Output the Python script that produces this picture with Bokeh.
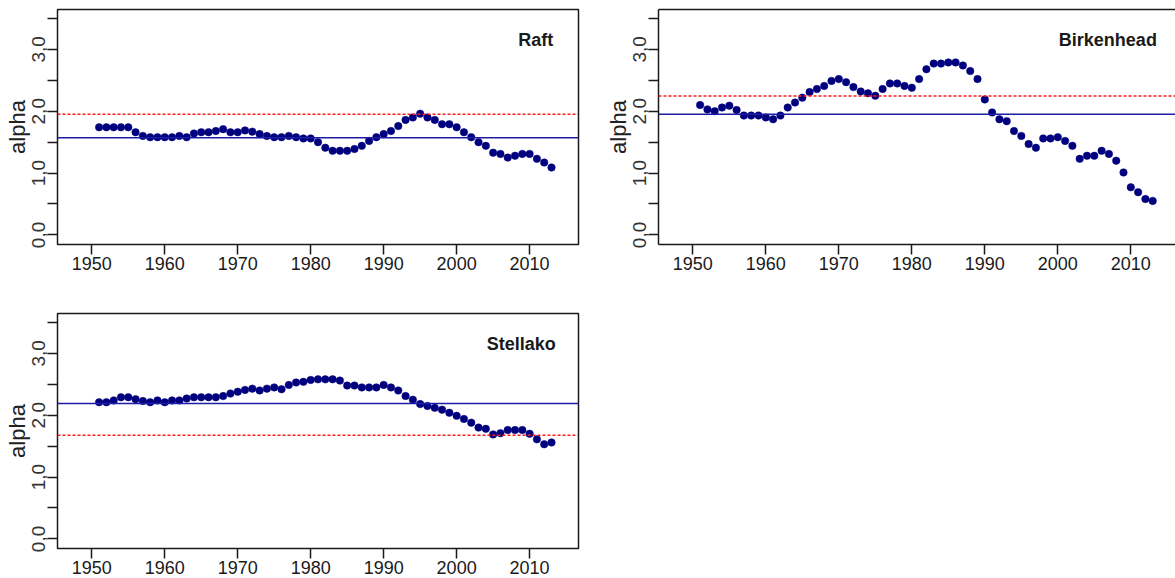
from bokeh.plotting import figure
from bokeh.layouts import column, row
from bokeh.models import (Span, Label, FixedTicker, CustomJSTickFormatter,
                          Range1d, LinearAxis, ColumnDataSource)
from bokeh.embed import file_html
from bokeh.resources import INLINE

# Brood years
years = list(range(1951, 2014))

# Productivity parameter (alpha) per stock and brood year
raft_alpha = [
    1.74, 1.74, 1.74, 1.74, 1.74, 1.66, 1.60, 1.58, 1.58, 1.58,
    1.58, 1.60, 1.58, 1.64, 1.66, 1.66, 1.68, 1.71, 1.66, 1.66,
    1.69, 1.67, 1.63, 1.60, 1.58, 1.58, 1.60, 1.58, 1.56, 1.56,
    1.50, 1.41, 1.36, 1.36, 1.36, 1.39, 1.44, 1.52, 1.58, 1.63,
    1.68, 1.76, 1.86, 1.90, 1.96, 1.90, 1.86, 1.79, 1.79, 1.74,
    1.66, 1.58, 1.50, 1.44, 1.33, 1.31, 1.25, 1.28, 1.31, 1.31,
    1.23, 1.17, 1.09,
]
birkenhead_alpha = [
    2.10, 2.03, 2.00, 2.06, 2.09, 2.02, 1.93, 1.93, 1.93, 1.90,
    1.87, 1.93, 2.06, 2.14, 2.22, 2.31, 2.36, 2.41, 2.49, 2.52,
    2.47, 2.39, 2.32, 2.29, 2.25, 2.36, 2.45, 2.45, 2.41, 2.38,
    2.52, 2.68, 2.77, 2.77, 2.79, 2.79, 2.74, 2.65, 2.52, 2.19,
    1.98, 1.87, 1.84, 1.68, 1.60, 1.47, 1.41, 1.56, 1.56, 1.58,
    1.52, 1.44, 1.23, 1.28, 1.28, 1.36, 1.31, 1.20, 1.01, 0.77,
    0.69, 0.58, 0.55,
]
stellako_alpha = [
    2.21, 2.21, 2.24, 2.29, 2.29, 2.26, 2.23, 2.21, 2.24, 2.21,
    2.24, 2.24, 2.27, 2.29, 2.29, 2.29, 2.29, 2.31, 2.35, 2.38,
    2.41, 2.43, 2.40, 2.43, 2.45, 2.42, 2.49, 2.53, 2.54, 2.57,
    2.58, 2.58, 2.58, 2.56, 2.48, 2.48, 2.45, 2.45, 2.45, 2.49,
    2.45, 2.40, 2.31, 2.25, 2.18, 2.15, 2.12, 2.09, 2.04, 1.99,
    1.94, 1.88, 1.80, 1.78, 1.69, 1.71, 1.76, 1.76, 1.76, 1.70,
    1.61, 1.53, 1.56,
]

stock_names = ["Raft", "Birkenhead", "Stellako"]
solid_levels = [1.57, 1.95, 2.19]     # solid blue reference
dotted_levels = [1.95, 2.245, 1.675]  # dotted red reference

y_ticks = [0, 1, 2, 3]
y_minor_ticks = [0.5, 1.5, 2.5, 3.5]
x_ticks = [1950, 1960, 1970, 1980, 1990, 2000, 2010]

FONT = "Liberation Sans"
INK = "#1a1a1a"
X_START = 1945.3


def make_panel(name, values, solid, dotted, width, height, border_right,
               border_bottom, x_end, label_x, closed=True):
    p = figure(width=width, height=height,
               x_range=Range1d(X_START, x_end), y_range=Range1d(-0.155, 3.645),
               output_backend="svg", toolbar_location=None,
               min_border_left=57, min_border_right=border_right,
               min_border_top=9, min_border_bottom=border_bottom,
               background_fill_color="white", border_fill_color="white")
    p.xgrid.visible = False
    p.ygrid.visible = False

    if closed:
        p.outline_line_color = INK
        p.outline_line_width = 1.5
        p.outline_line_alpha = 1.0
        axis_line = None
    else:
        p.outline_line_color = None
        axis_line = INK

    # x axis
    xa = p.xaxis[0]
    xa.ticker = FixedTicker(ticks=x_ticks)
    xa.axis_line_color = axis_line
    xa.axis_line_width = 1.5
    xa.major_tick_out = 10
    xa.major_tick_in = 0
    xa.major_tick_line_color = INK
    xa.major_tick_line_width = 1.5
    xa.minor_tick_line_color = None
    xa.major_label_standoff = 2
    xa.major_label_text_font = FONT
    xa.major_label_text_font_size = "18px"
    xa.major_label_text_color = INK

    # y axis
    ya = p.yaxis[0]
    ya.ticker = FixedTicker(ticks=y_ticks, minor_ticks=y_minor_ticks)
    ya.formatter = CustomJSTickFormatter(code="return tick.toFixed(1).replace('.', ',');")
    ya.axis_line_color = axis_line
    ya.axis_line_width = 1.5
    ya.major_tick_out = 10
    ya.major_tick_in = 0
    ya.minor_tick_out = 10
    ya.minor_tick_in = 0
    ya.major_tick_line_color = INK
    ya.minor_tick_line_color = INK
    ya.major_tick_line_width = 1.5
    ya.minor_tick_line_width = 1.5
    ya.major_label_orientation = "vertical"
    ya.major_label_standoff = 2
    ya.major_label_text_font = FONT
    ya.major_label_text_font_size = "19px"
    ya.major_label_text_color = "#333333"
    ya.axis_label = "alpha"
    ya.axis_label_standoff = 0
    ya.axis_label_text_font = FONT
    ya.axis_label_text_font_size = "22px"
    ya.axis_label_text_font_style = "normal"
    ya.axis_label_text_color = "#222222"

    if not closed:
        top = LinearAxis(ticker=FixedTicker(ticks=[]), axis_line_color=INK,
                         axis_line_width=1.5, major_tick_out=0, major_tick_in=0,
                         minor_tick_out=0, minor_tick_in=0,
                         major_label_text_font_size="0px")
        p.add_layout(top, "above")

    p.add_layout(Span(location=solid, dimension="width",
                      line_color="#1c1ca6", line_width=1.5))
    p.add_layout(Span(location=dotted, dimension="width",
                      line_color="#ff1a1a", line_width=1.5, line_dash="3 2"))

    src = ColumnDataSource(data=dict(year=years, alpha=values))
    p.scatter(x="year", y="alpha", source=src, marker="circle", size=7.5,
              fill_color="#00007f", line_color="#00007f", line_width=0.5)

    p.add_layout(Label(x=label_x, y=3.15, text=name, text_align="right",
                       text_baseline="alphabetic", text_font=FONT,
                       text_font_style="bold", text_font_size="18px",
                       text_color=INK))
    return p


p1 = make_panel(stock_names[0], raft_alpha, solid_levels[0], dotted_levels[0],
                width=601, height=304, border_right=23, border_bottom=60,
                x_end=2016.7, label_x=2013.25)
p2 = make_panel(stock_names[1], birkenhead_alpha, solid_levels[1], dotted_levels[1],
                width=574, height=304, border_right=0, border_bottom=60,
                x_end=X_START + 517 / 7.30, label_x=2013.57, closed=False)
p3 = make_panel(stock_names[2], stellako_alpha, solid_levels[2], dotted_levels[2],
                width=601, height=274, border_right=23, border_bottom=30,
                x_end=2016.7, label_x=2013.57)

layout = column(row(p1, p2), row(p3))

open("out.html", "w").write(file_html(layout, INLINE))
